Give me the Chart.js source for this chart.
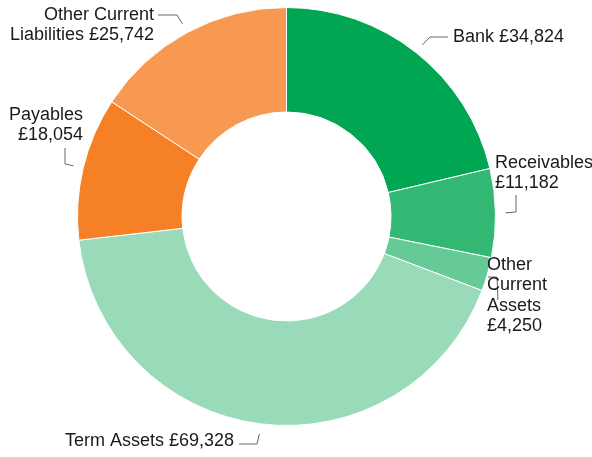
<!DOCTYPE html>
<html>
<head>
<meta charset="utf-8">
<script src="https://cdn.jsdelivr.net/npm/chart.js@4.4.1/dist/chart.umd.min.js"></script>
<style>
  html, body { margin: 0; padding: 0; background: #fff; }
  #wrap { width: 592px; height: 457px; position: relative; }
</style>
</head>
<body>
<div id="wrap"><canvas id="chart" width="592" height="457"></canvas></div>
<script>
// data
const categories = ['Bank', 'Receivables', 'Other Current Assets', 'Term Assets', 'Payables', 'Other Current Liabilities'];
const amounts = [34824, 11182, 4250, 69328, 18054, 25742];
const sliceColours = ['#00a651', '#33b874', '#66ca97', '#99dbb9', '#f58025', '#f79951'];

// how each label is broken into lines
const labelLines = [
    ['Bank £34,824'],
    ['Receivables', '£11,182'],
    ['Other', 'Current', 'Assets', '£4,250'],
    ['Term Assets £69,328'],
    ['Payables', '£18,054'],
    ['Other Current', 'Liabilities £25,742']
];

// where labels sit and how the leader bends (null = point next to the slice)
const labelLayout = [
    { x: 453, y: 37, align: 'left', leader: [null, [430, 37], [448, 37]] },
    { x: 495, y: 163, align: 'left', leader: [null, [516, 212], [516, 195]] },
    { x: 487, y: 265, align: 'left', leader: [[488, 277], null, [498, 300]] },
    { x: 234, y: 441, align: 'right', leader: [null, [257, 444], [239, 444]] },
    { x: 83, y: 115, align: 'right', leader: [null, [65, 164], [65, 148]] },
    { x: 154, y: 15, align: 'right', leader: [null, [177, 15], [158, 15]] }
];

// dibuja etiquetas con sus lineas guia
const outsideLabels = {
    id: 'outsideLabels',
    afterDraw(chart) {
        const ctx = chart.ctx;
        const arcs = chart.getDatasetMeta(0).data;
        ctx.save();
        arcs.forEach((arc, i) => {
            const p = arc.getProps(['x', 'y', 'startAngle', 'endAngle', 'outerRadius'], true);
            const mid = (p.startAngle + p.endAngle) / 2;
            const r = p.outerRadius + 10;
            const anchor = [p.x + Math.cos(mid) * r, p.y + Math.sin(mid) * r];
            const lay = labelLayout[i];

            ctx.strokeStyle = '#666';
            ctx.lineWidth = 1;
            ctx.beginPath();
            lay.leader.forEach((pt, k) => {
                const q = pt || anchor;
                if (k === 0) ctx.moveTo(q[0], q[1]);
                else ctx.lineTo(q[0], q[1]);
            });
            ctx.stroke();

            ctx.fillStyle = '#1a1a1a';
            ctx.font = '18px "Liberation Sans", Arial, sans-serif';
            ctx.textAlign = lay.align;
            ctx.textBaseline = 'middle';
            labelLines[i].forEach((line, k) => {
                ctx.fillText(line, lay.x, lay.y + k * 20.3);
            });
        });
        ctx.restore();
    }
};

new Chart(document.getElementById('chart'), {
    type: 'doughnut',
    data: {
        labels: categories,
        datasets: [{
            data: amounts,
            backgroundColor: sliceColours,
            borderColor: '#ffffff',
            borderWidth: 1
        }]
    },
    options: {
        responsive: false,
        animation: false,
        devicePixelRatio: 1,
        cutout: '50%',
        layout: { padding: { top: 7, bottom: 31, left: 0, right: 19 } },
        plugins: {
            legend: { display: false },
            tooltip: { enabled: false }
        }
    },
    plugins: [outsideLabels]
});
</script>
</body>
</html>
